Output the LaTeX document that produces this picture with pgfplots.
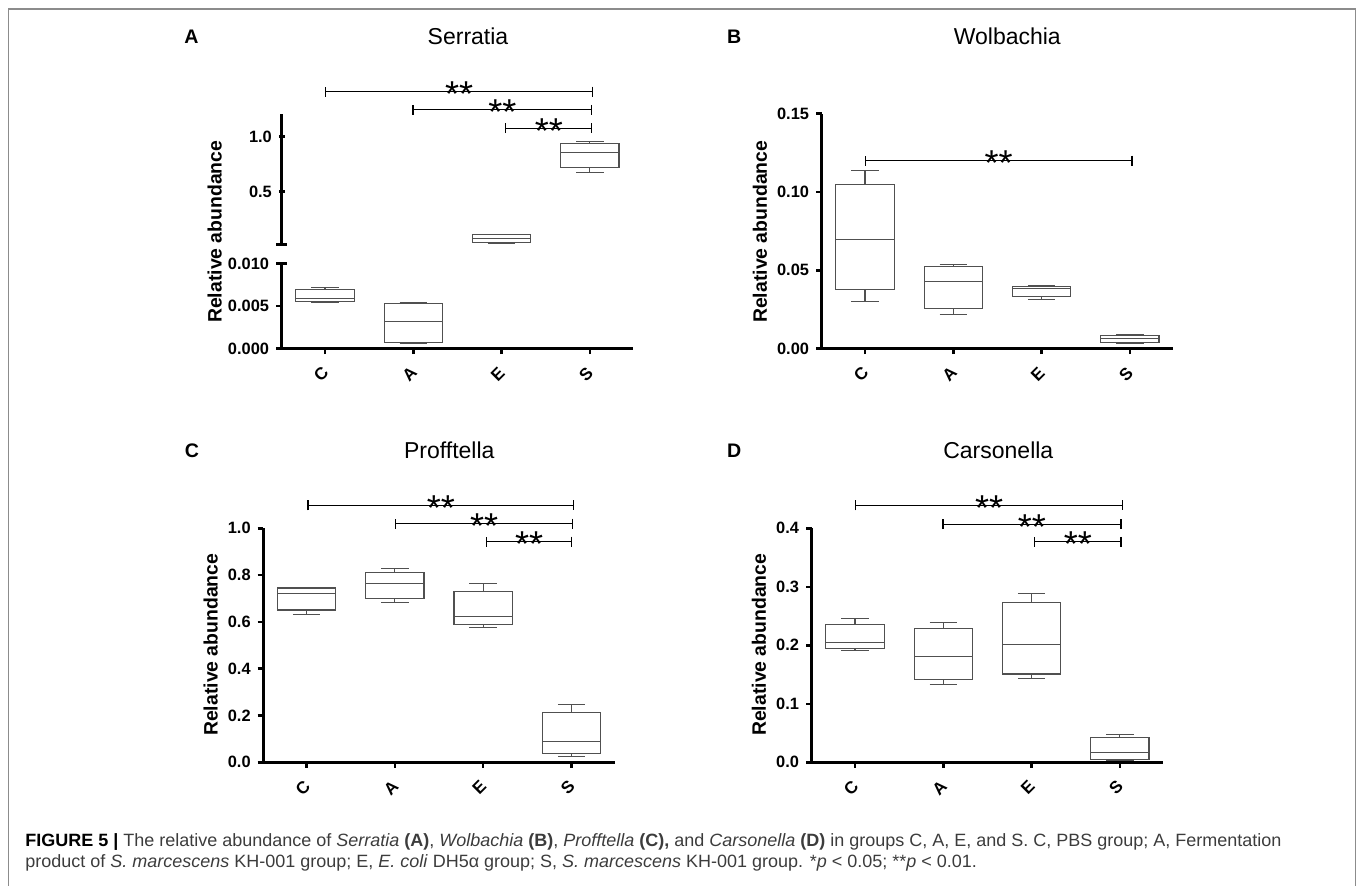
\documentclass[border=0pt]{standalone}
\usepackage{fontspec}
\setmainfont{Liberation Sans}
\usepackage{graphicx}
\usepackage{pgfplots}
\usepackage{pgfplotstable}
\pgfplotsset{compat=1.18}
\usepgfplotslibrary{statistics}
\usetikzlibrary{arrows.meta}

\definecolor{boxgray}{RGB}{80,80,80}
\definecolor{framegray}{RGB}{140,140,140}
\definecolor{capgray}{RGB}{60,60,60}

% box statistics, rows: C, A, E, S
\pgfplotstableread{
lw lq med uq uw
0.00545 0.00556 0.00588 0.00694 0.00721
0.00062 0.00074 0.00318 0.00525 0.00536
0.030 0.034 0.070 0.110 0.113
0.676 0.722 0.855 0.934 0.955
}\serratia
\pgfplotstableread{
lw lq med uq uw
0.0301 0.0378 0.0699 0.1051 0.1137
0.0218 0.0258 0.0431 0.0524 0.0534
0.0314 0.0331 0.0385 0.0399 0.0404
0.0032 0.0038 0.0062 0.0085 0.0092
}\wolbachia
\pgfplotstableread{
lw lq med uq uw
0.632 0.651 0.722 0.745 0.748
0.682 0.701 0.763 0.810 0.827
0.577 0.590 0.625 0.731 0.765
0.026 0.037 0.088 0.212 0.246
}\profftella
\pgfplotstableread{
lw lq med uq uw
0.191 0.194 0.205 0.236 0.246
0.133 0.142 0.181 0.228 0.239
0.144 0.151 0.201 0.273 0.289
0.0034 0.005 0.016 0.042 0.048
}\carsonella

\pgfplotsset{
  panel/.style={
    scale only axis, width=175.7pt, anchor=south west,
    xmin=-0.49, xmax=3.49,
    axis lines=left,
    axis line style={line width=1.5pt, -},
    tick align=outside, major tick length=2.8pt,
    tick style={line width=1.3pt, black},
    xtick={0,1,2,3}, xticklabels={C,A,E,S},
    x tick label style={font=\bfseries\fontsize{8.5}{9}\selectfont,
      anchor=center, xshift=-1.9pt, yshift=-9.9pt, rotate=45},
    y tick label style={font=\bfseries\fontsize{8.2}{9}\selectfont},
    scaled y ticks=false,
    clip=false,
  },
  bx/.style={draw=boxgray, line width=0.55pt, fill=white, solid, mark=none},
}
\tikzset{
  sig/.style={{Bar[width=5pt]}-{Bar[width=5pt]}, line width=0.6pt, black},
  stars/.style={font=\fontsize{18}{18}\selectfont, anchor=base, yshift=-7.6pt, inner sep=0pt},
}
% one box: table, row (= draw position)
\newcommand\bxp[2]{%
  \pgfplotstablegetelem{#2}{lw}\of{#1}\let\bLW\pgfplotsretval
  \pgfplotstablegetelem{#2}{lq}\of{#1}\let\bLQ\pgfplotsretval
  \pgfplotstablegetelem{#2}{med}\of{#1}\let\bMD\pgfplotsretval
  \pgfplotstablegetelem{#2}{uq}\of{#1}\let\bUQ\pgfplotsretval
  \pgfplotstablegetelem{#2}{uw}\of{#1}\let\bUW\pgfplotsretval
  \edef\bxtemp{\noexpand\addplot[bx, boxplot prepared={draw position=#2,
      draw direction=y,
      lower whisker=\bLW, lower quartile=\bLQ, median=\bMD,
      upper quartile=\bUQ, upper whisker=\bUW,
      box extend=0.66, whisker extend=0.31}] coordinates {};}%
  \bxtemp}
\newcommand\capfont{\fontsize{8.9}{10}\selectfont\color{capgray}}
\newsavebox\capA
\newsavebox\capB
\newlength\capw

\begin{document}
\sbox\capA{\capfont{\color{black}\bfseries FIGURE 5 |} The relative abundance of \textit{Serratia} \textbf{(A)}, \textit{Wolbachia} \textbf{(B)}, \textit{Profftella} \textbf{(C),} and \textit{Carsonella} \textbf{(D)} in groups C, A, E, and S. C, PBS group; A, Fermentation}%
\sbox\capB{\capfont product of \textit{S. marcescens} KH-001 group; E, \textit{E. coli} DH5α group; S, \textit{S. marcescens} KH-001 group. *\textit{p} < 0.05; **\textit{p} < 0.01.}%
\setlength\capw{\wd\capA}%
\pgfmathsetmacro\capscale{628pt/\capw}%
\begin{tikzpicture}
\path[use as bounding box] (0,0) rectangle (679pt,442.5pt);
\draw[framegray, line width=0.6pt] (4.15pt,-1pt) -- (4.15pt,438pt) -- (677.85pt,438pt) -- (677.85pt,-1pt);

% ---- A: Serratia, broken y axis
\begin{axis}[panel, at={(140.85pt,268.25pt)}, height=42.5pt,
  ymin=0, ymax=0.010, ytick={0,0.005,0.010},
  yticklabels={0.000,0.005,0.010}]
\bxp{\serratia}{0}
\bxp{\serratia}{1}
\draw[line width=1.3pt] (axis cs:-0.49,0.010) -- ([xshift=2.8pt]axis cs:-0.49,0.010);
\end{axis}
\begin{axis}[panel, at={(140.85pt,320.35pt)}, height=64.9pt,
  ymin=0.02, ymax=1.2, ytick={0.5,1.0}, yticklabels={0.5,1.0},
  axis x line=none, axis y line=left, xtick=\empty,
  y axis line style={-}]
\bxp{\serratia}{2}
\bxp{\serratia}{3}
\draw[line width=1.3pt] ([xshift=-2.8pt]axis cs:-0.49,0.02) -- ([xshift=2.8pt]axis cs:-0.49,0.02);
\draw[sig] (axis cs:0,1.409) -- (axis cs:3.04,1.409);
\draw[sig] (axis cs:0.99,1.243) -- (axis cs:3.03,1.243);
\draw[sig] (axis cs:2.04,1.076) -- (axis cs:3.03,1.076);
\node[stars] at (axis cs:1.52,1.409) {**};
\node[stars] at (axis cs:2.01,1.243) {**};
\node[stars] at (axis cs:2.535,1.076) {**};
\end{axis}

% ---- B: Wolbachia
\begin{axis}[panel, at={(410.85pt,268.25pt)}, height=117.35pt,
  ymin=0, ymax=0.15, ytick={0,0.05,0.10,0.15},
  yticklabels={0.00,0.05,0.10,0.15}]
\bxp{\wolbachia}{0}
\bxp{\wolbachia}{1}
\bxp{\wolbachia}{2}
\bxp{\wolbachia}{3}
\draw[sig] (axis cs:0,0.1201) -- (axis cs:3.03,0.1201);
\node[stars] at (axis cs:1.515,0.1201) {**};
\end{axis}

% ---- C: Profftella
\begin{axis}[panel, at={(131.65pt,61.35pt)}, height=117pt,
  ymin=0, ymax=1.0, ytick={0,0.2,0.4,0.6,0.8,1.0},
  yticklabels={0.0,0.2,0.4,0.6,0.8,1.0}]
\bxp{\profftella}{0}
\bxp{\profftella}{1}
\bxp{\profftella}{2}
\bxp{\profftella}{3}
\draw[sig] (axis cs:0.01,1.098) -- (axis cs:3.03,1.098);
\draw[sig] (axis cs:1.0,1.020) -- (axis cs:3.02,1.020);
\draw[sig] (axis cs:2.03,0.943) -- (axis cs:3.01,0.943);
\node[stars] at (axis cs:1.52,1.098) {**};
\node[stars] at (axis cs:2.01,1.020) {**};
\node[stars] at (axis cs:2.52,0.943) {**};
\end{axis}

% ---- D: Carsonella
\begin{axis}[panel, at={(405.85pt,61.35pt)}, height=117pt,
  ymin=0, ymax=0.4, ytick={0,0.1,0.2,0.3,0.4},
  yticklabels={0.0,0.1,0.2,0.3,0.4}]
\bxp{\carsonella}{0}
\bxp{\carsonella}{1}
\bxp{\carsonella}{2}
\bxp{\carsonella}{3}
\draw[sig] (axis cs:0,0.439) -- (axis cs:3.04,0.439);
\draw[sig] (axis cs:0.99,0.407) -- (axis cs:3.02,0.407);
\draw[sig] (axis cs:2.03,0.377) -- (axis cs:3.02,0.377);
\node[stars] at (axis cs:1.52,0.439) {**};
\node[stars] at (axis cs:2.005,0.407) {**};
\node[stars] at (axis cs:2.525,0.377) {**};
\end{axis}

% panel letters, titles, y labels
\begin{scope}[every node/.style={inner sep=0pt}]
\node[anchor=base west, font=\bfseries\fontsize{9.8}{10}\selectfont] at (92pt,420.5pt) {A};
\node[anchor=base west, font=\bfseries\fontsize{9.8}{10}\selectfont] at (363.3pt,420.5pt) {B};
\node[anchor=base west, font=\bfseries\fontsize{9.8}{10}\selectfont] at (92.2pt,213.85pt) {C};
\node[anchor=base west, font=\bfseries\fontsize{9.8}{10}\selectfont] at (363.3pt,213.85pt) {D};
\node[anchor=base, font=\fontsize{11.5}{12}\selectfont] at (234pt,420pt) {Serratia};
\node[anchor=base, font=\fontsize{11.5}{12}\selectfont] at (503.65pt,420pt) {Wolbachia};
\node[anchor=base, font=\fontsize{11.5}{12}\selectfont] at (224.65pt,213.35pt) {Profftella};
\node[anchor=base, font=\fontsize{11.5}{12}\selectfont] at (499.15pt,213.35pt) {Carsonella};
\node[rotate=90, font=\bfseries\fontsize{9.7}{10}\selectfont] at (107.3pt,326.65pt) {Relative abundance};
\node[rotate=90, font=\bfseries\fontsize{9.7}{10}\selectfont] at (380pt,326.65pt) {Relative abundance};
\node[rotate=90, font=\bfseries\fontsize{9.7}{10}\selectfont] at (105.3pt,120.15pt) {Relative abundance};
\node[rotate=90, font=\bfseries\fontsize{9.7}{10}\selectfont] at (379.5pt,120.15pt) {Relative abundance};
\end{scope}

% caption
\node[anchor=base west, inner sep=0pt] at (12.5pt,19.15pt) {\scalebox{\capscale}[1]{\usebox\capA}};
\node[anchor=base west, inner sep=0pt] at (12.5pt,8.85pt) {\scalebox{\capscale}[1]{\usebox\capB}};
\end{tikzpicture}
\end{document}
